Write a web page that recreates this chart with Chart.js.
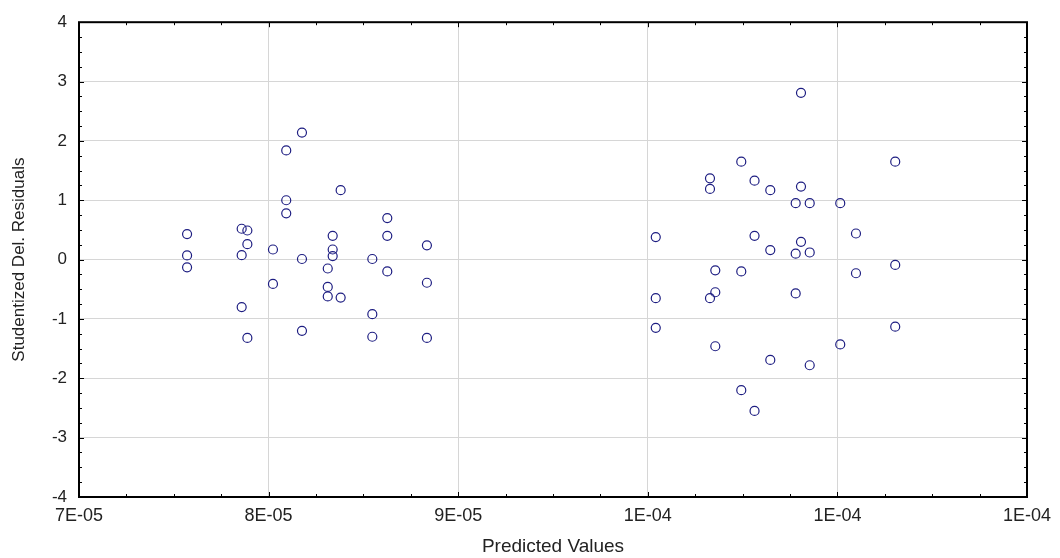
<!DOCTYPE html>
<html>
<head>
<meta charset="utf-8">
<script src="https://cdn.jsdelivr.net/npm/chart.js@4"></script>
<style>
  html, body { margin: 0; padding: 0; background: #fff; }
  #wrap { width: 1060px; height: 558px; position: relative; }
</style>
</head>
<body>
<div id="wrap"><canvas id="residChart"></canvas></div>
<script>
// predicted values (x) and studentized deleted residuals (y)
const predicted = [
    7.57e-5, 7.57e-5, 7.57e-5,
    8.176e-5, 8.093e-5, 8.38e-5, 8.093e-5, 8.093e-5, 8.626e-5,
    7.858e-5, 7.888e-5, 8.338e-5, 8.626e-5, 8.835e-5, 7.888e-5, 8.023e-5, 8.338e-5,
    7.858e-5, 8.338e-5, 8.176e-5, 8.547e-5, 8.312e-5, 8.626e-5, 8.023e-5, 8.835e-5,
    8.312e-5, 8.312e-5, 8.38e-5, 8.547e-5, 7.858e-5, 8.176e-5, 7.888e-5, 8.547e-5, 8.835e-5,
    10.808e-5, 10.493e-5, 11.305e-5, 10.328e-5, 10.328e-5, 10.563e-5, 10.646e-5, 10.808e-5,
    10.78e-5, 10.854e-5, 11.015e-5, 10.042e-5, 10.563e-5, 11.098e-5, 10.808e-5, 10.646e-5,
    10.78e-5, 10.854e-5, 10.356e-5, 10.493e-5, 11.098e-5, 11.305e-5, 10.042e-5, 10.328e-5,
    10.356e-5, 10.78e-5, 10.042e-5, 11.305e-5, 10.356e-5, 11.015e-5, 10.646e-5, 10.854e-5,
    10.493e-5, 10.563e-5
];
const residuals = [
    0.43, 0.07, -0.13,
    2.14, 1.84, 1.17, 1.0, 0.78, 0.70,
    0.52, 0.49, 0.40, 0.40, 0.24, 0.26, 0.17, 0.17,
    0.075, 0.06, 0.01, 0.01, -0.15, -0.2, -0.41, -0.39,
    -0.46, -0.62, -0.64, -0.92, -0.80, -1.2, -1.32, -1.30, -1.32,
    2.81, 1.65, 1.65, 1.37, 1.19, 1.33, 1.17, 1.23,
    0.95, 0.95, 0.95, 0.38, 0.40, 0.44, 0.30, 0.16,
    0.10, 0.12, -0.18, -0.20, -0.23, -0.09, -0.65, -0.65,
    -0.55, -0.57, -1.15, -1.13, -1.46, -1.43, -1.69, -1.78,
    -2.20, -2.55
];
const xTicks = [7e-5, 8e-5, 9e-5, 10e-5, 11e-5, 12e-5];
const xTickLabels = ["7E-05", "8E-05", "9E-05", "1E-04", "1E-04", "1E-04"];
const yTicks = [-4, -3, -2, -1, 0, 1, 2, 3, 4];

const points = predicted.map((x, i) => ({ x: x, y: residuals[i] }));

// frame plus small inward tick marks, like the original
const frameTicks = {
    id: "frameTicks",
    afterDraw(chart) {
        const { ctx, chartArea: a, scales } = chart;
        const xs = scales.x, ys = scales.y;
        ctx.save();
        ctx.strokeStyle = "#000";
        ctx.lineWidth = 1;
        const xStep = (xTicks[1] - xTicks[0]) / 4;
        for (let i = 0; i <= (xTicks.length - 1) * 4; i++) {
            const px = Math.round(xs.getPixelForValue(xTicks[0] + i * xStep)) + 0.5;
            const len = i % 4 === 0 ? 5 : 3;
            ctx.beginPath();
            ctx.moveTo(px, a.bottom); ctx.lineTo(px, a.bottom - len);
            ctx.moveTo(px, a.top); ctx.lineTo(px, a.top + len);
            ctx.stroke();
        }
        for (let i = 0; i <= (yTicks.length - 1) * 4; i++) {
            const py = Math.round(ys.getPixelForValue(yTicks[0] + i * 0.25)) + 0.5;
            const len = i % 4 === 0 ? 5 : 3;
            ctx.beginPath();
            ctx.moveTo(a.left, py); ctx.lineTo(a.left + len, py);
            ctx.moveTo(a.right, py); ctx.lineTo(a.right - len, py);
            ctx.stroke();
        }
        ctx.lineWidth = 2;
        ctx.strokeRect(a.left, a.top, a.right - a.left, a.bottom - a.top);
        ctx.restore();
    }
};

const chart = new Chart(document.getElementById("residChart"), {
    type: "scatter",
    data: {
        datasets: [{
            label: "Residuals",
            data: points,
            pointStyle: "circle",
            pointRadius: 4.5,
            pointBorderWidth: 1.2,
            pointBorderColor: "#1e1e82",
            pointBackgroundColor: "rgba(0,0,0,0)"
        }]
    },
    options: {
        responsive: true,
        maintainAspectRatio: false,
        animation: false,
        layout: { padding: { top: 20, right: 33, left: 0, bottom: 0 } },
        plugins: {
            legend: { display: false },
            tooltip: { enabled: false }
        },
        scales: {
            x: {
                type: "linear",
                min: xTicks[0],
                max: xTicks[xTicks.length - 1],
                afterBuildTicks: (s) => { s.ticks = xTicks.map(v => ({ value: v })); },
                afterFit: (s) => { s.height = 61; },
                grid: { color: "#d6d6d6", lineWidth: 1, drawTicks: false },
                border: { display: false },
                ticks: {
                    padding: 8,
                    color: "#222",
                    font: { family: "Liberation Sans, Arial", size: 18 },
                    maxRotation: 0,
                    autoSkip: false,
                    callback: (v, i) => xTickLabels[i]
                },
                title: {
                    display: true,
                    text: "Predicted Values",
                    color: "#222",
                    font: { family: "Liberation Sans, Arial", size: 19 },
                    padding: { top: 4, bottom: 0 }
                }
            },
            y: {
                min: yTicks[0],
                max: yTicks[yTicks.length - 1],
                afterBuildTicks: (s) => { s.ticks = yTicks.map(v => ({ value: v })); },
                afterFit: (s) => { s.width = 79; },
                grid: { color: "#d6d6d6", lineWidth: 1, drawTicks: false },
                border: { display: false },
                ticks: {
                    padding: 12,
                    color: "#222",
                    font: { family: "Liberation Sans, Arial", size: 17 }
                },
                title: {
                    display: true,
                    text: "Studentized Del. Residuals",
                    color: "#222",
                    font: { family: "Liberation Sans, Arial", size: 17 },
                    padding: { top: 9, bottom: 0 }
                }
            }
        }
    },
    plugins: [frameTicks]
});
</script>
</body>
</html>
